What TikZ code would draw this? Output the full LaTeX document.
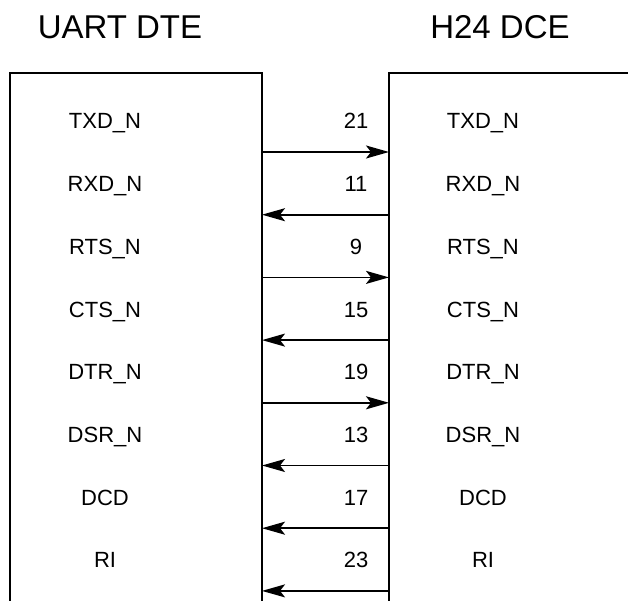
\documentclass[tikz,border=0pt]{standalone}
\usepackage{fontspec}
\setmainfont{Liberation Sans}
\usetikzlibrary{arrows.meta}
\tikzset{
  ttl/.style={font=\fontsize{33}{40}\selectfont,inner sep=0pt,anchor=base},
  sig/.style={font=\fontsize{22}{26}\selectfont,inner sep=0pt,anchor=base},
  pinno/.style={sig},
  edge/.style={line width=2pt},
  ar/.style={-{Stealth[length=23pt,width=13pt,inset=5pt]},line width=1.8pt}
}

\begin{document}
\begin{tikzpicture}[x=1pt,y=-1pt]
  \useasboundingbox (0,0) rectangle (628,601);
  \node[ttl] (dte) at (120,39) {UART DTE};
  \node[ttl] (dce) at (500,39) {H24 DCE};
  % box outlines, open at the bottom
  \draw[edge] (10,601) -- (10,73) -- (262,73) -- (262,601);
  \draw[edge] (389,601) -- (389,73) -- (628,73);
  % signal rows: name / pin / direction (1 = DTE to DCE)
  \foreach \sname/\pnum/\dir [count=\i from 0] in
    {TXD\_N/21/1, RXD\_N/11/0, RTS\_N/9/1, CTS\_N/15/0,
     DTR\_N/19/1, DSR\_N/13/0, DCD/17/0, RI/23/0} {
    \node[sig] (l\i) at (105,{129+62.7*\i}) {\sname};
    \node[sig] (r\i) at (483,{129+62.7*\i}) {\sname};
    \node[pinno] (p\i) at (356,{129+62.7*\i}) {\pnum};
    \coordinate (a\i) at (262,{152+62.7*\i});
    \coordinate (b\i) at (389,{152+62.7*\i});
    \ifnum\dir=1
      \draw[ar] (a\i) -- (b\i);
    \else
      \draw[ar] (b\i) -- (a\i);
    \fi
  }
\end{tikzpicture}
\end{document}
